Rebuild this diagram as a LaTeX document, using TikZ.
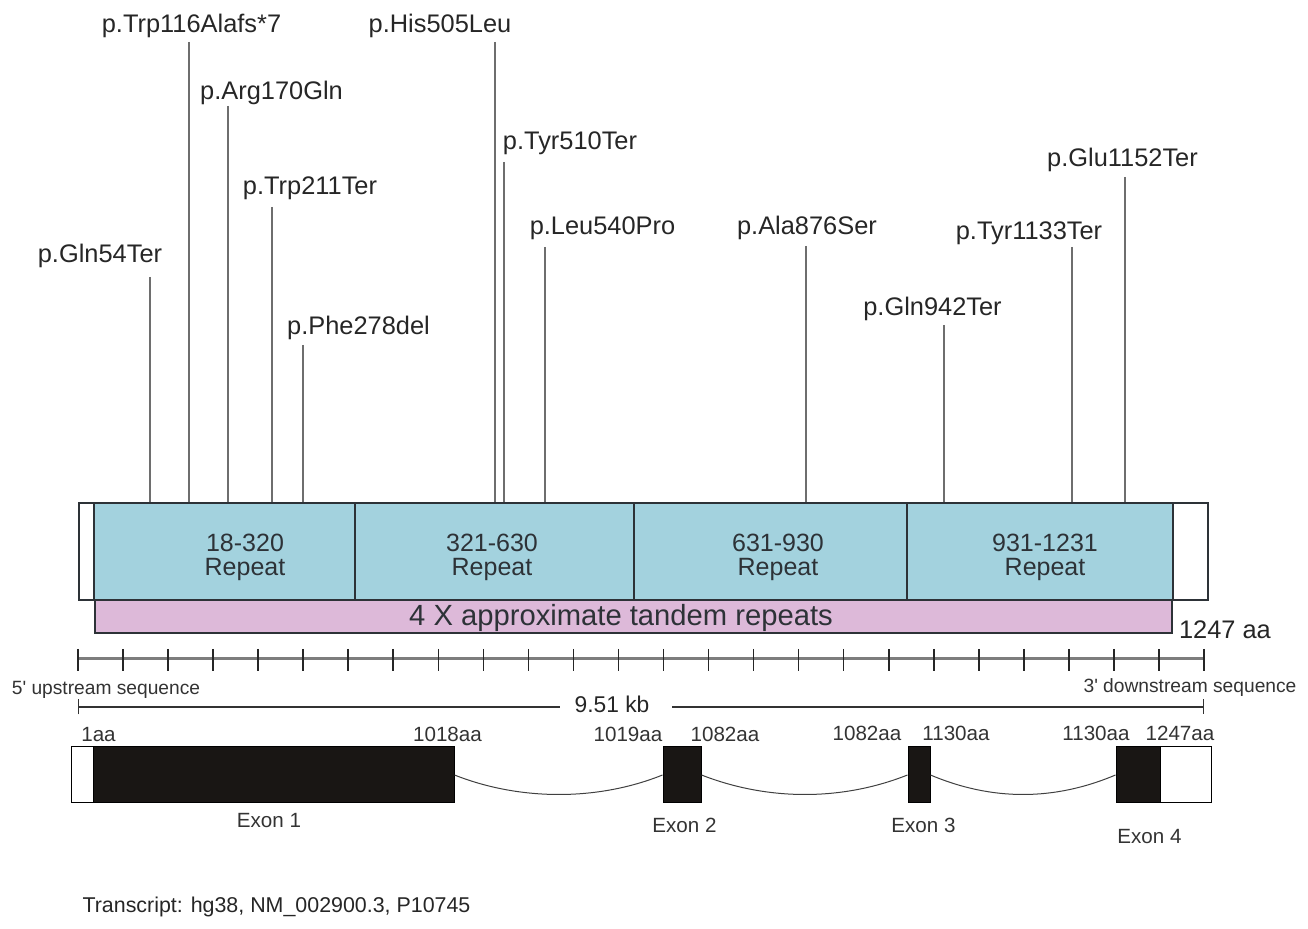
\documentclass[tikz,border=0pt]{standalone}
\usepackage{fontspec}
\setmainfont{Liberation Sans}
\usetikzlibrary{fit, arrows.meta}
\definecolor{repblue}{RGB}{163, 210, 222}
\definecolor{tandpink}{RGB}{221, 185, 217}
\definecolor{edgegray}{RGB}{45, 50, 55}
\definecolor{stemgray}{RGB}{110, 110, 110}
\definecolor{rulegray}{RGB}{125, 125, 125}
\definecolor{exonblack}{RGB}{25, 22, 20}

\begin{document}
\begin{tikzpicture}[
    x=0.5pt, y=-0.5pt,
    mut/.style={inner sep=0pt, font=\fontsize{12.7}{15}\selectfont, text=black!85},
    stem/.style={draw=stemgray, line width=0.6pt},
    protbox/.style={draw=edgegray, fill=white, line width=0.9pt, inner sep=0pt},
    rep/.style={draw=edgegray, fill=repblue, line width=0.9pt, inner sep=0pt},
    tandem/.style={draw=edgegray, fill=tandpink, line width=0.9pt, inner sep=0pt},
    replab/.style={inner sep=0pt, align=center, font=\fontsize{12.5}{12}\selectfont, text=edgegray},
    small/.style={inner sep=0pt, font=\fontsize{10.3}{12}\selectfont, text=black!80},
    seqlab/.style={inner sep=0pt, font=\fontsize{9.6}{11}\selectfont, text=black!80},
    exon/.style={draw=black, fill=exonblack, line width=0.5pt, inner sep=0pt},
    utr/.style={draw=black, fill=white, line width=0.5pt, inner sep=0pt},
    intron/.style={draw=black!75, line width=0.5pt},
    scalebar/.style={draw=black!80, line width=0.7pt}
  ]
  \useasboundingbox (0,0) rectangle (1308,929);

  % protein with the four repeats
  \node[protbox, fit={(79,503) (1208,600)}] (prot) {};
  \node[rep, fit={(94,503) (355,600)}] (rep1) {};
  \node[rep, fit={(355,503) (634,600)}] (rep2) {};
  \node[rep, fit={(634,503) (907,600)}] (rep3) {};
  \node[rep, fit={(907,503) (1173,600)}] (rep4) {};
  \node[tandem, fit={(95,600) (1172,633)}] (tand) {};
  \node[replab] (rep1lab) at (245,557) {18-320\\Repeat};
  \node[replab] (rep2lab) at (492,557) {321-630\\Repeat};
  \node[replab] (rep3lab) at (778,557) {631-930\\Repeat};
  \node[replab] (rep4lab) at (1045,557) {931-1231\\Repeat};
  \node[inner sep=0pt, font=\fontsize{14.6}{16}\selectfont, text=edgegray] (tandlab) at (621,618) {4 X approximate tandem repeats};
  \node[mut] (len) at (1225,630) {1247 aa};

  % variants
  \node[mut] (q54) at (100,256) {p.Gln54Ter};
  \node[mut] (w116) at (191.5,26) {p.Trp116Alafs*7};
  \node[mut] (r170) at (271.5,93) {p.Arg170Gln};
  \node[mut] (w211) at (310,188) {p.Trp211Ter};
  \node[mut] (f278) at (358.5,328) {p.Phe278del};
  \node[mut] (h505) at (440,26) {p.His505Leu};
  \node[mut] (y510) at (570,143) {p.Tyr510Ter};
  \node[mut] (l540) at (602.5,228) {p.Leu540Pro};
  \node[mut] (a876) at (807,228) {p.Ala876Ser};
  \node[mut] (q942) at (932.5,309) {p.Gln942Ter};
  \node[mut] (y1133) at (1029,233) {p.Tyr1133Ter};
  \node[mut] (e1152) at (1122.5,160) {p.Glu1152Ter};

  \coordinate (q54t) at (150,277);
  \coordinate (w116t) at (189,42);
  \coordinate (r170t) at (228,106);
  \coordinate (w211t) at (272,207);
  \coordinate (f278t) at (303,345);
  \coordinate (h505t) at (495,42);
  \coordinate (y510t) at (504,162);
  \coordinate (l540t) at (545,247);
  \coordinate (a876t) at (806,246);
  \coordinate (q942t) at (944,325);
  \coordinate (y1133t) at (1072,247);
  \coordinate (e1152t) at (1125,177);
  \draw[stem] (q54t) -- (q54t |- prot.north);
  \draw[stem] (w116t) -- (w116t |- prot.north);
  \draw[stem] (r170t) -- (r170t |- prot.north);
  \draw[stem] (w211t) -- (w211t |- prot.north);
  \draw[stem] (f278t) -- (f278t |- prot.north);
  \draw[stem] (h505t) -- (h505t |- prot.north);
  \draw[stem] (y510t) -- (y510t |- prot.north);
  \draw[stem] (l540t) -- (l540t |- prot.north);
  \draw[stem] (a876t) -- (a876t |- prot.north);
  \draw[stem] (q942t) -- (q942t |- prot.north);
  \draw[stem] (y1133t) -- (y1133t |- prot.north);
  \draw[stem] (e1152t) -- (e1152t |- prot.north);

  % ruler
  \draw[draw=rulegray, line width=1.5pt] (78,659) -- (1204,659);
  \foreach \i in {0,...,25}
    \draw[black!85, line width=0.8pt] (78+45.04*\i,649) -- (78+45.04*\i,671);
  \node[seqlab] (up) at (106,690) {5\textquotesingle{} upstream sequence};
  \node[seqlab] (down) at (1190,688) {3\textquotesingle{} downstream sequence};

  % gene length
  \node[inner sep=0pt, font=\fontsize{11.4}{13}\selectfont, text=black!85] (kb) at (612,704) {9.51 kb};
  \coordinate (kbL) at (78,707);
  \coordinate (kbR) at (1204,707);
  \draw[scalebar, {Bar[width=7.5pt]}-] (kbL) -- ([xshift=-7.25pt]kb.west |- kbL);
  \draw[scalebar, -{Bar[width=7.5pt]}] ([xshift=11.25pt]kb.east |- kbR) -- (kbR);

  % exons
  \node[utr, fit={(71,747) (93,803)}] (ex1u) {};
  \node[exon, fit={(93,747) (454,803)}] (ex1) {};
  \node[exon, fit={(663,747) (701,803)}] (ex2) {};
  \node[exon, fit={(908,747) (930,803)}] (ex3) {};
  \node[exon, fit={(1116,747) (1160,803)}] (ex4) {};
  \node[utr, fit={(1160,747) (1211,803)}] (ex4u) {};
  \draw[intron] (ex1.east) .. controls (520,801) and (598,801) .. (ex2.west);
  \draw[intron] (ex2.east) .. controls (768,801) and (842,801) .. (ex3.west);
  \draw[intron] (ex3.east) .. controls (992,801) and (1054,801) .. (ex4.west);

  \node[small] (aa1) at (98.5,735) {1aa};
  \node[small] (aa1018) at (447.5,734) {1018aa};
  \node[small] (aa1019) at (628,734) {1019aa};
  \node[small] (aa1082a) at (725,734) {1082aa};
  \node[small] (aa1082b) at (867,733) {1082aa};
  \node[small] (aa1130a) at (956,733) {1130aa};
  \node[small] (aa1130b) at (1096,733) {1130aa};
  \node[small] (aa1247) at (1180,733) {1247aa};
  \node[small] (ex1lab) at (269,821) {Exon 1};
  \node[small] (ex2lab) at (684.5,825) {Exon 2};
  \node[small] (ex3lab) at (923.5,825) {Exon 3};
  \node[small] (ex4lab) at (1149.5,837) {Exon 4};

  \node[inner sep=0pt, font=\fontsize{10.7}{13}\selectfont, text=black!85] (tx) at (276.5,907) {Transcript: hg38, NM\_002900.3, P10745};
\end{tikzpicture}
\end{document}
